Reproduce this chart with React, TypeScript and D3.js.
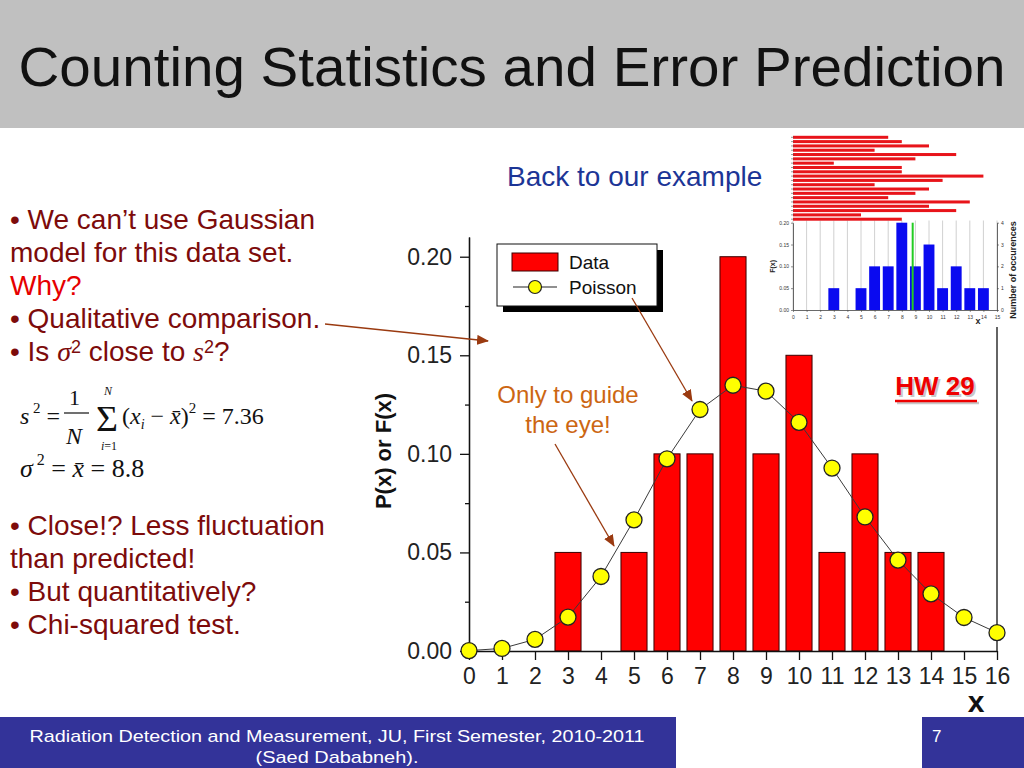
import { useEffect, useRef } from "react";
import * as d3 from "d3";

// main histogram: measured frequency F(x) for each count x
const dataX = [3, 5, 6, 7, 8, 9, 10, 11, 12, 13, 14];
const dataF = [0.05, 0.05, 0.1, 0.1, 0.2, 0.1, 0.15, 0.05, 0.1, 0.05, 0.05];

// Poisson prediction P(x), mean 8.8
const poissonX = [0, 1, 2, 3, 4, 5, 6, 7, 8, 9, 10, 11, 12, 13, 14, 15, 16];
const poissonP = [
	0.0002, 0.0013, 0.0059, 0.0172, 0.0378, 0.0665, 0.0975, 0.1225, 0.1348, 0.1318, 0.116,
	0.0928, 0.068, 0.0461, 0.029, 0.017, 0.0093,
];

const yTicks = [0, 0.05, 0.1, 0.15, 0.2];
const yMinorTicks = [0.025, 0.075, 0.125, 0.175];
const xTicks = [0, 1, 2, 3, 4, 5, 6, 7, 8, 9, 10, 11, 12, 13, 14, 15, 16];

// inset: the 20 individual measurements and their histogram
const measurements = [7, 8, 10, 6, 12, 9, 3, 8, 8, 14, 11, 6, 10, 9, 7, 13, 10, 12, 5, 8];
const insetX = [3, 5, 6, 7, 8, 9, 10, 11, 12, 13, 14];
const insetCounts = [1, 1, 2, 2, 4, 2, 3, 1, 2, 1, 1];
const insetXTicks = [0, 1, 2, 3, 4, 5, 6, 7, 8, 9, 10, 11, 12, 13, 14, 15];
const insetYTicks = [0, 0.05, 0.1, 0.15, 0.2];
const insetCountTicks = [0, 1, 2, 3, 4];
const insetMean = 8.8;

const leftTop = [
	{ text: "• We can’t use Gaussian", color: "#7d0b0b" },
	{ text: "model for this data set.", color: "#7d0b0b" },
	{ text: "Why?", color: "#e60000" },
	{ text: "• Qualitative comparison.", color: "#7d0b0b" },
];
const leftBottom = [
	"• Close!? Less fluctuation",
	"than predicted!",
	"• But quantitatively?",
	"• Chi-squared test.",
];

const SANS = "'Liberation Sans', Arial, Helvetica, sans-serif";
const SERIF = "'Liberation Serif', 'Times New Roman', serif";
const BROWN = "#9a3a10";

export default function App() {
	const chartRef = useRef<SVGGElement>(null);
	const insetRef = useRef<SVGGElement>(null);

	useEffect(() => {
		if (!chartRef.current || !insetRef.current) return;

		// ---------- main chart ----------
		const g = d3.select(chartRef.current);
		g.selectAll("*").remove();

		const x = d3.scaleLinear().domain([0, 16]).range([469, 997]);
		const y = d3.scaleLinear().domain([0, 0.21]).range([651, 237]);
		const barW = (x(1) - x(0)) * 0.79;

		g.selectAll("rect.bar")
			.data(dataX)
			.join("rect")
			.attr("class", "bar")
			.attr("x", (d) => x(d) - barW / 2)
			.attr("y", (_, i) => y(dataF[i]))
			.attr("width", barW)
			.attr("height", (_, i) => y(0) - y(dataF[i]))
			.attr("fill", "#ff0000")
			.attr("stroke", "#3a0000")
			.attr("stroke-width", 1);

		const line = d3
			.line<number>()
			.x((d) => x(d))
			.y((_, i) => y(poissonP[i]));

		g.append("path")
			.datum(poissonX)
			.attr("d", line)
			.attr("fill", "none")
			.attr("stroke", "#3a3a3a")
			.attr("stroke-width", 1);

		const axisStyle = (sel: d3.Selection<SVGGElement, unknown, null, undefined>) => {
			sel.selectAll("line").attr("stroke", "#111").attr("stroke-width", 1.3);
			sel.select(".domain").attr("stroke", "#111").attr("stroke-width", 1.3);
			sel.selectAll("text")
				.attr("fill", "#222")
				.attr("font-size", 23)
				.attr("font-family", SANS);
		};

		g.append("g")
			.attr("transform", `translate(${x(0)},0)`)
			.call(
				d3.axisLeft(y).tickValues(yTicks).tickSize(9).tickSizeOuter(0).tickPadding(8)
					.tickFormat((d) => d3.format(".2f")(Number(d)))
			)
			.call(axisStyle);

		g.append("g")
			.attr("transform", `translate(${x(0)},0)`)
			.call(d3.axisLeft(y).tickValues(yMinorTicks).tickSize(4).tickSizeOuter(0).tickFormat(() => ""))
			.call(axisStyle);

		g.append("g")
			.attr("transform", `translate(0,${y(0)})`)
			.call(d3.axisBottom(x).tickValues(xTicks).tickSize(9).tickSizeOuter(0).tickPadding(8).tickFormat(d3.format("d")))
			.call(axisStyle);

		g.append("line")
			.attr("x1", x(16))
			.attr("x2", x(16))
			.attr("y1", y(0.21))
			.attr("y2", y(0))
			.attr("stroke", "#111")
			.attr("stroke-width", 1.3);

		g.selectAll("circle.pt")
			.data(poissonX)
			.join("circle")
			.attr("class", "pt")
			.attr("cx", (d) => x(d))
			.attr("cy", (_, i) => y(poissonP[i]))
			.attr("r", 8)
			.attr("fill", "#ffff00")
			.attr("stroke", "#222")
			.attr("stroke-width", 1.3);

		// ---------- inset ----------
		const ins = d3.select(insetRef.current);
		ins.selectAll("*").remove();

		const xi = d3.scaleLinear().domain([0, 15]).range([793, 997]);
		const yi = d3.scaleLinear().domain([0, 0.2]).range([310, 222.7]);
		const yc = d3.scaleLinear().domain([0, 4]).range([310, 222.7]);
		const rowY = d3
			.scaleBand<number>()
			.domain(d3.range(measurements.length))
			.range([134.5, 222])
			.padding(0.3);

		ins.append("rect")
			.attr("x", 766)
			.attr("y", 131)
			.attr("width", 258)
			.attr("height", 196)
			.attr("fill", "#fff");

		ins.selectAll("line.grid")
			.data(insetXTicks)
			.join("line")
			.attr("class", "grid")
			.attr("x1", (d) => xi(d))
			.attr("x2", (d) => xi(d))
			.attr("y1", yi(0))
			.attr("y2", yi(0.205))
			.attr("stroke", "#c4c4c4")
			.attr("stroke-width", 0.8);

		ins.selectAll("rect.meas")
			.data(measurements)
			.join("rect")
			.attr("class", "meas")
			.attr("x", xi(0))
			.attr("y", (_, i) => rowY(i) ?? 0)
			.attr("width", (d) => xi(d) - xi(0))
			.attr("height", rowY.bandwidth())
			.attr("fill", "#e8141a");

		ins.selectAll("line.measTick")
			.data(measurements)
			.join("line")
			.attr("class", "measTick")
			.attr("x1", xi(0) - 2)
			.attr("x2", xi(0) + 1)
			.attr("y1", (_, i) => (rowY(i) ?? 0) + rowY.bandwidth() / 2)
			.attr("y2", (_, i) => (rowY(i) ?? 0) + rowY.bandwidth() / 2)
			.attr("stroke", "#555")
			.attr("stroke-width", 0.6);

		const ibw = (xi(1) - xi(0)) * 0.8;
		ins.selectAll("rect.hist")
			.data(insetX)
			.join("rect")
			.attr("class", "hist")
			.attr("x", (d) => xi(d) - ibw / 2)
			.attr("y", (_, i) => yc(insetCounts[i]))
			.attr("width", ibw)
			.attr("height", (_, i) => yc(0) - yc(insetCounts[i]))
			.attr("fill", "#0a0af0");

		ins.append("line")
			.attr("x1", xi(insetMean))
			.attr("x2", xi(insetMean))
			.attr("y1", yi(0))
			.attr("y2", yi(0.2))
			.attr("stroke", "#22cc22")
			.attr("stroke-width", 2);

		const smallAxis = (sel: d3.Selection<SVGGElement, unknown, null, undefined>) => {
			sel.selectAll("line").attr("stroke", "#444").attr("stroke-width", 0.6);
			sel.select(".domain").attr("stroke", "#444").attr("stroke-width", 0.8);
			sel.selectAll("text").attr("fill", "#333").attr("font-size", 5).attr("font-family", SANS);
		};

		ins.append("g")
			.attr("transform", `translate(${xi(0)},0)`)
			.call(d3.axisLeft(yi).tickValues(insetYTicks).tickSize(2).tickSizeOuter(0).tickPadding(2)
				.tickFormat((d) => d3.format(".2f")(Number(d))))
			.call(smallAxis);

		ins.append("g")
			.attr("transform", `translate(0,${yi(0)})`)
			.call(d3.axisBottom(xi).tickValues(insetXTicks).tickSize(2).tickSizeOuter(0).tickPadding(3).tickFormat(d3.format("d")))
			.call(smallAxis);

		ins.append("g")
			.attr("transform", `translate(${xi(15)},0)`)
			.call(d3.axisRight(yc).tickValues(insetCountTicks).tickSize(2).tickSizeOuter(0).tickPadding(2).tickFormat(d3.format("d")))
			.call(smallAxis);

		ins.append("text")
			.attr("transform", `translate(775,${yi(0.1)}) rotate(-90)`)
			.attr("text-anchor", "middle")
			.attr("font-family", SANS)
			.attr("font-weight", "bold")
			.attr("font-size", 7)
			.attr("fill", "#222")
			.text("F(x)");

		ins.append("text")
			.attr("x", 978)
			.attr("y", 324)
			.attr("text-anchor", "middle")
			.attr("font-family", SANS)
			.attr("font-weight", "bold")
			.attr("font-size", 9)
			.attr("fill", "#222")
			.text("x");

		ins.append("text")
			.attr("transform", `translate(1016,270) rotate(-90)`)
			.attr("text-anchor", "middle")
			.attr("font-family", SANS)
			.attr("font-weight", "bold")
			.attr("font-size", 9)
			.attr("fill", "#222")
			.text("Number of occurences");
	}, []);

	return (
		<svg
			width={1024}
			height={768}
			style={{ position: "absolute", left: 0, top: 0, background: "#fff" }}
		>
			<defs>
				<marker
					id="arrow"
					markerUnits="userSpaceOnUse"
					markerWidth={12}
					markerHeight={10}
					refX={11}
					refY={5}
					orient="auto"
				>
					<path d="M0,0 L12,5 L0,10 z" fill={BROWN} />
				</marker>
			</defs>

			{/* title band */}
			<rect x={0} y={0} width={1024} height={128} fill="#c0c0c0" />
			<text
				x={512}
				y={86}
				textAnchor="middle"
				fontFamily={SANS}
				fontSize={56}
				fill="#111"
				textLength={987}
				lengthAdjust="spacingAndGlyphs"
			>
				Counting Statistics and Error Prediction
			</text>

			{/* left column text */}
			<g fontFamily={SANS} fontSize={28}>
				{leftTop.map((l, i) => (
					<text key={l.text} x={10} y={229 + i * 33} fill={l.color}>
						{l.text}
					</text>
				))}
				<text x={10} y={361} fill="#7d0b0b">
					{"• Is "}
					<tspan fontFamily={SERIF} fontStyle="italic">σ</tspan>
					<tspan fontSize={18} dy={-8}>2</tspan>
					<tspan dy={8}>{" close to "}</tspan>
					<tspan fontFamily={SERIF} fontStyle="italic">s</tspan>
					<tspan fontSize={18} dy={-8}>2</tspan>
					<tspan dy={8}>?</tspan>
				</text>
				{leftBottom.map((t, i) => (
					<text key={t} x={10} y={535 + i * 33} fill="#7d0b0b">
						{t}
					</text>
				))}
			</g>

			{/* formulas */}
			<g fontFamily={SERIF} fill="#111">
				<text x={20} y={424} fontSize={24}>
					<tspan fontStyle="italic">s</tspan>
					<tspan fontSize={15} dy={-11}>{" 2"}</tspan>
					<tspan dy={11}>{" ="}</tspan>
				</text>
				<text x={69} y={405} fontSize={22}>1</text>
				<line x1={64} x2={89} y1={413} y2={413} stroke="#111" strokeWidth={1.2} />
				<text x={66} y={444} fontSize={24} fontStyle="italic">N</text>
				<text x={96} y={431} fontSize={36} textLength={22} lengthAdjust="spacingAndGlyphs">Σ</text>
				<text x={104} y={395} fontSize={12} fontStyle="italic">N</text>
				<text x={101} y={450} fontSize={12}>
					<tspan fontStyle="italic">i</tspan>=1
				</text>
				<text x={122} y={424} fontSize={24}>
					(<tspan fontStyle="italic">x</tspan>
					<tspan fontSize={14} dy={5} fontStyle="italic">i</tspan>
					<tspan dy={-5}>{" − "}</tspan>
					<tspan fontStyle="italic">x̄</tspan>)
					<tspan fontSize={15} dy={-11}>2</tspan>
					<tspan dy={11}>{" = 7.36"}</tspan>
				</text>
				<text x={20} y={477} fontSize={26}>
					<tspan fontStyle="italic">σ</tspan>
					<tspan fontSize={16} dy={-12}>{" 2"}</tspan>
					<tspan dy={12}>{" = "}</tspan>
					<tspan fontStyle="italic">x̄</tspan>
					{" = 8.8"}
				</text>
			</g>

			<text x={507} y={186} fontFamily={SANS} fontSize={28} fill="#1c3596">
				Back to our example
			</text>

			{/* main chart */}
			<g ref={chartRef} />
			<text
				transform="translate(391,451) rotate(-90)"
				textAnchor="middle"
				fontFamily={SANS}
				fontWeight="bold"
				fontSize={22}
				fill="#111"
			>
				P(x) or F(x)
			</text>
			<text x={976} y={712} textAnchor="middle" fontFamily={SANS} fontWeight="bold" fontSize={30} fill="#111">
				x
			</text>

			{/* legend */}
			<rect x={503} y={250} width={160} height={62} fill="#000" />
			<rect x={497} y={244} width={160} height={62} fill="#fff" stroke="#111" strokeWidth={1} />
			<rect x={512} y={253} width={46} height={18} fill="#ff0000" stroke="#3a0000" strokeWidth={1} />
			<text x={569} y={269} fontFamily={SANS} fontSize={19} fill="#111">Data</text>
			<line x1={513} x2={557} y1={287} y2={287} stroke="#222" strokeWidth={1.2} />
			<circle cx={535} cy={287} r={6.5} fill="#ffff00" stroke="#222" strokeWidth={1.2} />
			<text x={569} y={294} fontFamily={SANS} fontSize={19} fill="#111">Poisson</text>

			{/* annotations */}
			<text x={568} y={403} textAnchor="middle" fontFamily={SANS} fontSize={24} fill="#cc6612">
				Only to guide
			</text>
			<text x={568} y={433} textAnchor="middle" fontFamily={SANS} fontSize={24} fill="#cc6612">
				the eye!
			</text>
			<line x1={325} y1={324} x2={488} y2={341} stroke={BROWN} strokeWidth={1.3} markerEnd="url(#arrow)" />
			<line x1={632} y1={298} x2={692} y2={401} stroke={BROWN} strokeWidth={1.3} markerEnd="url(#arrow)" />
			<line x1={555} y1={444} x2={614} y2={546} stroke={BROWN} strokeWidth={1.3} markerEnd="url(#arrow)" />

			<g fontFamily={SANS} fontWeight="bold" fontSize={26}>
				<text x={937} y={397} textAnchor="middle" fill="#c8c8c8">HW 29</text>
				<line x1={897} x2={979} y1={403} y2={403} stroke="#c8c8c8" strokeWidth={2.5} />
				<text x={935} y={395} textAnchor="middle" fill="#ee0000">HW 29</text>
				<line x1={895} x2={977} y1={401} y2={401} stroke="#ee0000" strokeWidth={2.5} />
			</g>

			{/* inset figure */}
			<g ref={insetRef} />

			{/* footer */}
			<rect x={0} y={717} width={676} height={51} fill="#333399" />
			<rect x={922} y={717} width={102} height={51} fill="#333399" />
			<g fontFamily={SANS} fontSize={17} fill="#fff">
				<text x={337} y={742} textAnchor="middle" textLength={615} lengthAdjust="spacingAndGlyphs">
					Radiation Detection and Measurement, JU, First Semester, 2010-2011
				</text>
				<text x={337} y={763} textAnchor="middle" textLength={163} lengthAdjust="spacingAndGlyphs">
					(Saed Dababneh).
				</text>
				<text x={932} y={742}>7</text>
			</g>
		</svg>
	);
}
